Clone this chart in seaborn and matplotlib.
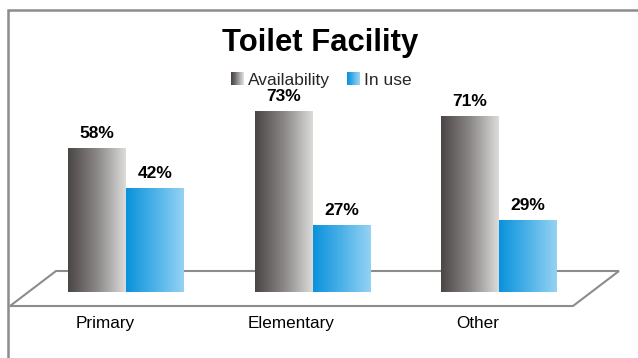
import numpy as np
import pandas as pd
import matplotlib
matplotlib.use("Agg")
import matplotlib.pyplot as plt
from matplotlib.colors import LinearSegmentedColormap
from matplotlib.patches import Polygon, Rectangle
from matplotlib.legend_handler import HandlerBase
from matplotlib.transforms import ScaledTranslation
import seaborn as sns

# --- data ---
categories = ["Primary", "Elementary", "Other"]
series = ["Availability", "In use"]
availability = [58, 73, 71]
in_use = [42, 27, 29]

# --- styling ---
gray_grad = ["#4a4646", "#8a8786", "#dcdcda"]
blue_grad = ["#0a92dc", "#4cb2e8", "#95d2f4"]
frame_gray = "#8c8c8c"

sns.set_theme(style="white")
plt.rcParams["font.family"] = ["Liberation Sans", "DejaVu Sans"]

df = pd.DataFrame({
    "category": categories * 2,
    "series": [series[0]] * len(categories) + [series[1]] * len(categories),
    "value": availability + in_use,
})

W, H = 638, 358
fig = plt.figure(figsize=(W / 100, H / 100), dpi=100)
fig.patch.set_facecolor("white")


def fx(px):
    return px / W


def fy(py):
    return (H - py) / H


# outer chart-area border
fig.add_artist(Rectangle((fx(7.5), -0.1), 1.2, fy(9.5) + 0.1, fill=False,
                         edgecolor=frame_gray, linewidth=1.8,
                         transform=fig.transFigure, zorder=-2))

# pseudo-3D floor behind the bars
floor = Polygon([(fx(10), fy(306)), (fx(56), fy(271)),
                 (fx(619), fy(271)), (fx(573), fy(306))],
                closed=True, fill=False, edgecolor=frame_gray, linewidth=1.5,
                transform=fig.transFigure, zorder=-1)
fig.add_artist(floor)

ax = fig.add_axes([fx(32.75), fy(292), fx(559.5), 247 / H])
ax.patch.set_visible(False)

sns.barplot(data=df, x="category", y="value", hue="series",
            palette=[gray_grad[1], blue_grad[1]], width=0.62,
            saturation=1, legend=False, ax=ax)

cmaps = [LinearSegmentedColormap.from_list("gray_grad", gray_grad),
         LinearSegmentedColormap.from_list("blue_grad", blue_grad)]
ramp = np.linspace(0, 1, 256).reshape(1, -1)

# replace flat fills with horizontal gradients
for cont, cmap in zip(ax.containers, cmaps):
    for bar in cont:
        x, y = bar.get_x(), bar.get_y()
        w, h = bar.get_width(), bar.get_height()
        ax.imshow(ramp, cmap=cmap, aspect="auto", extent=(x, x + w, y, y + h),
                  zorder=2, interpolation="bilinear")
        bar.set_facecolor("none")
        bar.set_edgecolor("none")
    vals = [b.get_height() for b in cont]
    ax.bar_label(cont, labels=[f"{v:.0f}%" for v in vals], padding=5.5,
                 fontsize=12.5, fontweight="bold", color="black")

ax.set_xlim(-0.5, 2.5)
ax.set_ylim(0, 100)
ax.set_yticks([])
ax.set_xlabel("")
ax.set_ylabel("")
for s in ax.spines.values():
    s.set_visible(False)
ax.tick_params(axis="x", length=0, pad=17, labelsize=12.3, labelcolor="black")
shift = ScaledTranslation(-21 / 100, 0, fig.dpi_scale_trans)
for lab in ax.get_xticklabels():
    lab.set_transform(lab.get_transform() + shift)

# title
fig.text(fx(320), fy(43), "Toilet Facility", ha="center", va="center",
         fontsize=22.3, fontweight="bold", color="black")


class GradientHandler(HandlerBase):
    def __init__(self, cmap, steps=14):
        super().__init__()
        self.cmap = cmap
        self.steps = steps

    def create_artists(self, legend, orig_handle, xdescent, ydescent,
                       width, height, fontsize, trans):
        arts = []
        sw = width / self.steps
        for i in range(self.steps):
            c = self.cmap(i / (self.steps - 1))
            arts.append(Rectangle((-xdescent + i * sw, -ydescent), sw * 1.05,
                                  height, facecolor=c, edgecolor="none",
                                  transform=trans))
        return arts


h1 = Rectangle((0, 0), 1, 1)
h2 = Rectangle((0, 0), 1, 1)
fig.legend([h1, h2], series, loc="center", bbox_to_anchor=(fx(321), fy(80)),
           ncol=2, frameon=False, fontsize=12.5, handlelength=0.76,
           handleheight=0.72, handletextpad=0.2, columnspacing=1.0,
           borderpad=0, borderaxespad=0,
           handler_map={h1: GradientHandler(cmaps[0]),
                        h2: GradientHandler(cmaps[1])})

fig.savefig("out.png", dpi=100, facecolor="white")
